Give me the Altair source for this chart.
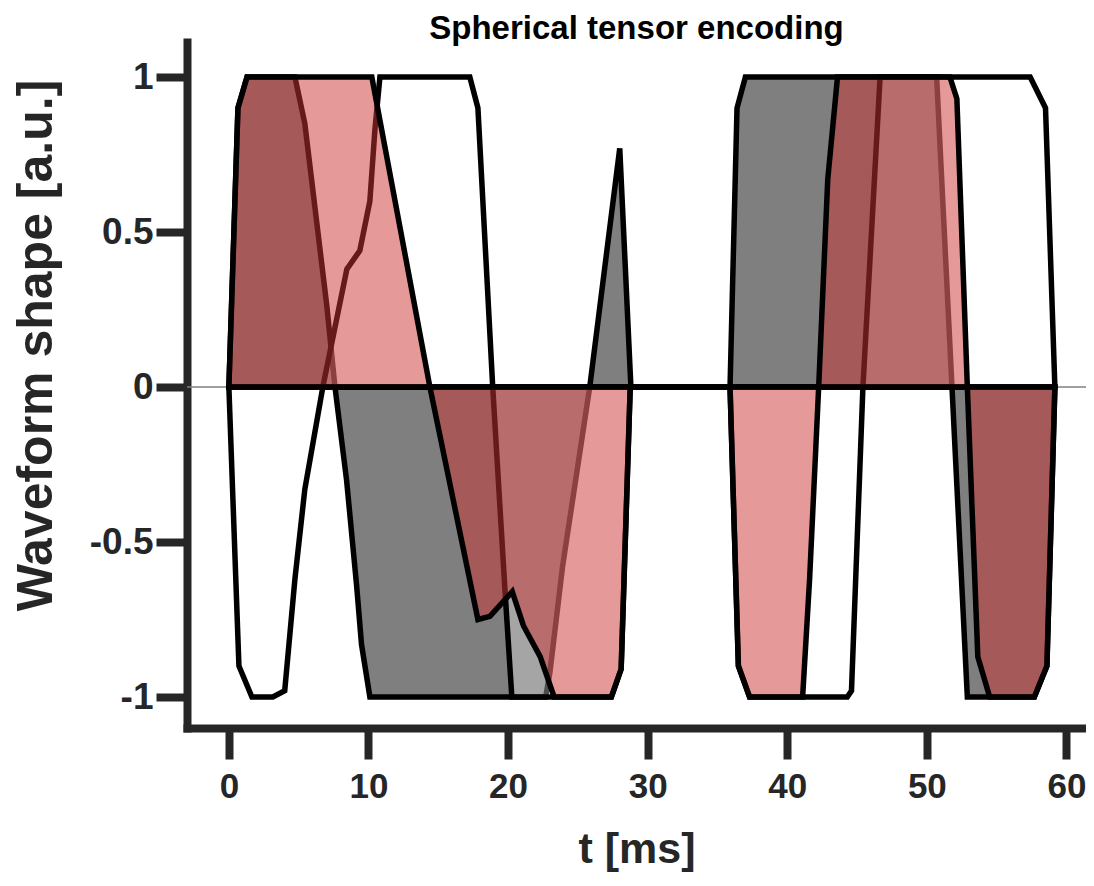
import altair as alt
import pandas as pd

# ---- waveform data (t in ms, normalised amplitude) ----
t_gray = [0.0, 0.65, 1.3, 4.73, 5.44, 7.02, 7.6, 8.43, 9.15, 9.5, 10.1,
          22.7, 23.0, 23.9, 25.85, 28.0, 28.8,
          35.9, 36.4, 37.0, 50.7, 51.8, 52.9, 57.7, 58.6, 59.17]
v_gray = [0.0, 0.9, 1.0, 1.0, 0.85, 0.26, 0.0, -0.3, -0.64, -0.83, -1.0,
          -1.0, -0.92, -0.58, 0.0, 0.77, 0.0,
          0.0, 0.9, 1.0, 1.0, 0.0, -1.0, -1.0, -0.9, 0.0]

t_white = [0.0, 0.72, 1.65, 3.15, 4.0, 4.73, 5.44, 6.73, 8.45, 9.38, 10.1, 10.46, 10.82,
           17.26, 17.84, 18.9, 19.77, 20.27, 27.4, 28.1, 28.75,
           35.9, 36.5, 37.3, 44.3, 44.6, 45.42, 46.65, 57.4, 58.5, 59.17]
v_white = [0.0, -0.9, -1.0, -1.0, -0.98, -0.62, -0.33, 0.0, 0.38, 0.44, 0.6, 0.83, 1.0,
           1.0, 0.9, 0.0, -0.65, -1.0, -1.0, -0.91, 0.0,
           0.0, -0.9, -1.0, -1.0, -0.98, 0.0, 1.0, 1.0, 0.9, 0.0]

t_red = [0.0, 0.65, 1.3, 10.24, 14.4, 17.84, 18.7, 20.3, 21.1, 22.3, 23.3, 27.4, 28.1, 28.75,
         35.9, 36.5, 37.3, 41.1, 41.6, 42.25, 42.9, 43.6, 51.65, 52.15, 52.9, 53.65, 54.5,
         57.7, 58.6, 59.17]
v_red = [0.0, 0.9, 1.0, 1.0, 0.0, -0.75, -0.74, -0.66, -0.77, -0.87, -1.0, -1.0, -0.91, 0.0,
         0.0, -0.9, -1.0, -1.0, -0.62, 0.0, 0.67, 1.0, 1.0, 0.93, 0.0, -0.87, -1.0,
         -1.0, -0.9, 0.0]

x_ticks = [0, 10, 20, 30, 40, 50, 60]
y_ticks = [-1, -0.5, 0, 0.5, 1]
x_domain = [-3, 61.4]
y_domain = [-1.1, 1.113]

FONT = "Liberation Sans"
AX = "#262626"

def frame(t, v):
    return pd.DataFrame({"t": t, "v": v})

x_enc = alt.X("t:Q", scale=alt.Scale(domain=x_domain, nice=False, zero=False),
              axis=alt.Axis(values=x_ticks, title="t [ms]", labelExpr="'' + datum.value"))
y_enc = alt.Y("v:Q", scale=alt.Scale(domain=y_domain, nice=False, zero=False),
              axis=alt.Axis(values=y_ticks, title="Waveform shape [a.u.]",
                            labelExpr="'' + datum.value"))

zero_line = alt.Chart(pd.DataFrame({"y": [0]})).mark_rule(
    color="#7f7f7f", strokeWidth=1.5
).encode(y=alt.Y("y:Q", scale=alt.Scale(domain=y_domain, nice=False, zero=False)),
         x=alt.value(0), x2=alt.value(899))

def area(t, v, fill, op):
    return alt.Chart(frame(t, v)).mark_area(
        fill=fill, fillOpacity=op, stroke="black", strokeWidth=5.5,
        strokeJoin="miter", interpolate="linear"
    ).encode(x=x_enc, y=y_enc, y2=alt.datum(0))

chart = alt.layer(
    zero_line,
    area(t_gray, v_gray, "#000000", 0.5),
    area(t_white, v_white, "#ffffff", 0.3),
    area(t_red, v_red, "#cc3333", 0.5),
).properties(
    width=899, height=686,
    title=alt.TitleParams("Spherical tensor encoding", font=FONT, fontSize=33,
                          fontWeight="bold", color="black", anchor="middle", offset=-4),
    autosize=alt.AutoSizeParams(type="none"),
    padding={"left": 179, "top": 34, "right": 0, "bottom": 150},
).configure_view(stroke=None).configure_axis(
    grid=False, domainColor=AX, domainWidth=8, domainCap="square",
    tickColor=AX, tickWidth=8, tickSize=31,
    labelFont=FONT, labelFontWeight="bold", labelColor=AX,
    titleFont=FONT, titleFontWeight="bold", titleColor=AX,
).configure_axisY(labelPadding=3, labelFontSize=37, titlePadding=28, titleFontSize=50,
                  titleY=303
).configure_axisX(labelPadding=10, labelFontSize=35, titlePadding=24, titleFontSize=43)

chart.save("out.html", embed_options={"renderer": "svg", "actions": False})
